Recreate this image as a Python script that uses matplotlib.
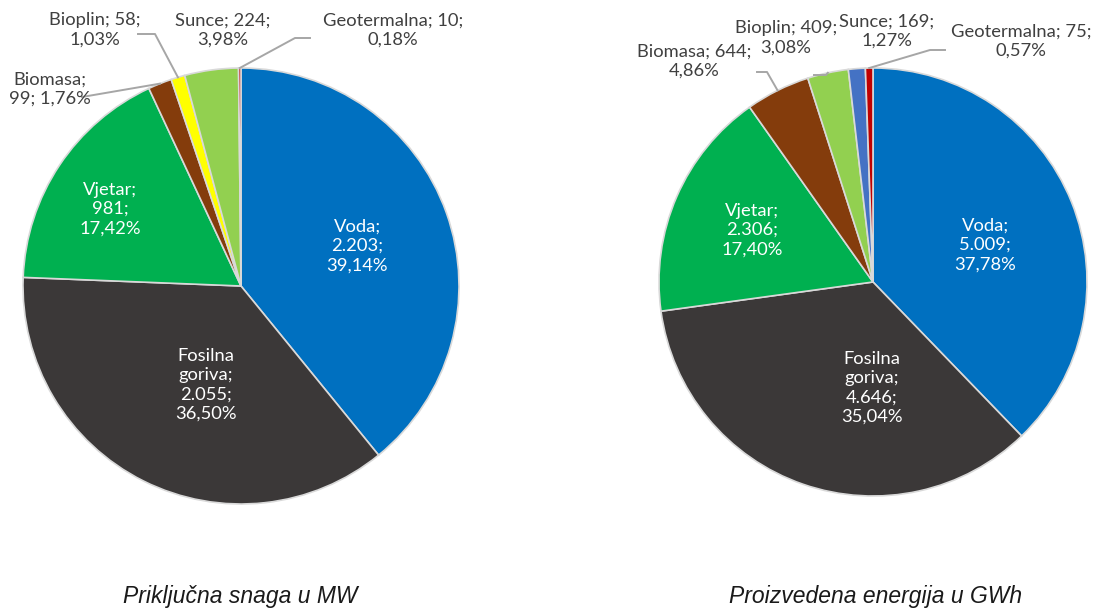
import numpy as np
import matplotlib.pyplot as plt

# podaci
kategorije = ['Voda', 'Fosilna\ngoriva', 'Vjetar', 'Biomasa', 'Bioplin', 'Sunce', 'Geotermalna']
snaga_mw = [2203, 2055, 981, 99, 58, 224, 10]
snaga_pct = [39.14, 36.50, 17.42, 1.76, 1.03, 3.98, 0.18]
energija_gwh = [5009, 4646, 2306, 644, 409, 169, 75]
energija_pct = [37.78, 35.04, 17.40, 4.86, 3.08, 1.27, 0.57]

boje_l = ['#0070C0', '#3B3838', '#00B050', '#843C0C', '#FFFF00', '#92D050', '#C00000']
boje_r = ['#0070C0', '#3B3838', '#00B050', '#843C0C', '#92D050', '#4472C4', '#C00000']

naslov_l = 'Priključna snaga u MW'
naslov_r = 'Proizvedena energija u GWh'


def broj(v):
    return f'{v:,}'.replace(',', '.')


def post(p):
    return f'{p:.2f}'.replace('.', ',') + '%'


fig = plt.figure(figsize=(10.95, 6.11), dpi=100)
ax = fig.add_axes([0, 0, 1, 1])
ax.set_xlim(0, 1095)
ax.set_ylim(611, 0)
ax.axis('off')

siva = '#404040'
linija = '#A6A6A6'
font = 'Lato'


def pita(cx, cy, r, vrijednosti, boje):
    # y os je okrenuta, pa je smjer obrnut
    w, _ = ax.pie(vrijednosti, colors=boje, startangle=-90, counterclock=True,
                  center=(cx, cy), radius=r, frame=True,
                  wedgeprops=dict(edgecolor='#D9D9D9', linewidth=1.2))
    ax.set_xlim(0, 1095)
    ax.set_ylim(611, 0)
    ax.axis('off')
    return w


def rub(w, cx, cy, r):
    th = np.deg2rad((w.theta1 + w.theta2) / 2)
    return cx + r * np.cos(th), cy + r * np.sin(th)


def oznaka(x, y, tekst, boja):
    ax.text(x, y, tekst, ha='center', va='center', color=boja, fontsize=13.2,
            family=font, linespacing=1.25)


# lijeva pita
cxl, cyl, rl = 241, 286, 218
wl = pita(cxl, cyl, rl, snaga_mw, boje_l)
lab = [f'{k};\n{broj(v)};\n{post(p)}' for k, v, p in zip(kategorije, snaga_mw, snaga_pct)]
oznaka(357, 246, lab[0], 'white')
oznaka(206, 385, lab[1], 'white')
oznaka(110, 209, lab[2], 'white')
oznaka(50, 89, f'{kategorije[3]};\n{snaga_mw[3]}; {post(snaga_pct[3])}', siva)
oznaka(95, 30, f'{kategorije[4]}; {snaga_mw[4]};\n{post(snaga_pct[4])}', siva)
oznaka(223, 30, f'{kategorije[5]}; {snaga_mw[5]};\n{post(snaga_pct[5])}', siva)
oznaka(393, 30, f'{kategorije[6]}; {snaga_mw[6]};\n{post(snaga_pct[6])}', siva)

for i, tocke in [(3, [(82, 97)]), (4, [(138, 34), (155, 34)]), (6, [(310, 38), (295, 38)])]:
    ex, ey = rub(wl[i], cxl, cyl, rl)
    xs = [t[0] for t in tocke] + [ex]
    ys = [t[1] for t in tocke] + [ey]
    ax.plot(xs, ys, color=linija, lw=1.4)

# desna pita
cxr, cyr, rr = 873, 282, 214
wr = pita(cxr, cyr, rr, energija_gwh, boje_r)
lab = [f'{k};\n{broj(v)};\n{post(p)}' for k, v, p in zip(kategorije, energija_gwh, energija_pct)]
oznaka(985, 245, lab[0], 'white')
oznaka(872, 388, lab[1], 'white')
oznaka(752, 230, lab[2], 'white')
oznaka(694, 61, f'{kategorije[3]}; {energija_gwh[3]};\n{post(energija_pct[3])}', siva)
oznaka(786, 38, f'{kategorije[4]}; {energija_gwh[4]};\n{post(energija_pct[4])}', siva)
oznaka(887, 31, f'{kategorije[5]}; {energija_gwh[5]};\n{post(energija_pct[5])}', siva)
oznaka(1021, 41, f'{kategorije[6]}; {energija_gwh[6]};\n{post(energija_pct[6])}', siva)

for i, tocke in [(3, [(757, 72), (767, 72)]), (4, [(814, 75), (826, 75)]), (6, [(945, 50), (930, 50)])]:
    ex, ey = rub(wr[i], cxr, cyr, rr)
    xs = [t[0] for t in tocke] + [ex]
    ys = [t[1] for t in tocke] + [ey]
    ax.plot(xs, ys, color=linija, lw=1.4)

ax.text(240, 596, naslov_l, ha='center', va='center', fontsize=16.5,
        style='italic', family='Liberation Sans', color='#1a1a1a')
ax.text(876, 596, naslov_r, ha='center', va='center', fontsize=16.5,
        style='italic', family='Liberation Sans', color='#1a1a1a')

fig.savefig('out.png', dpi=100)
